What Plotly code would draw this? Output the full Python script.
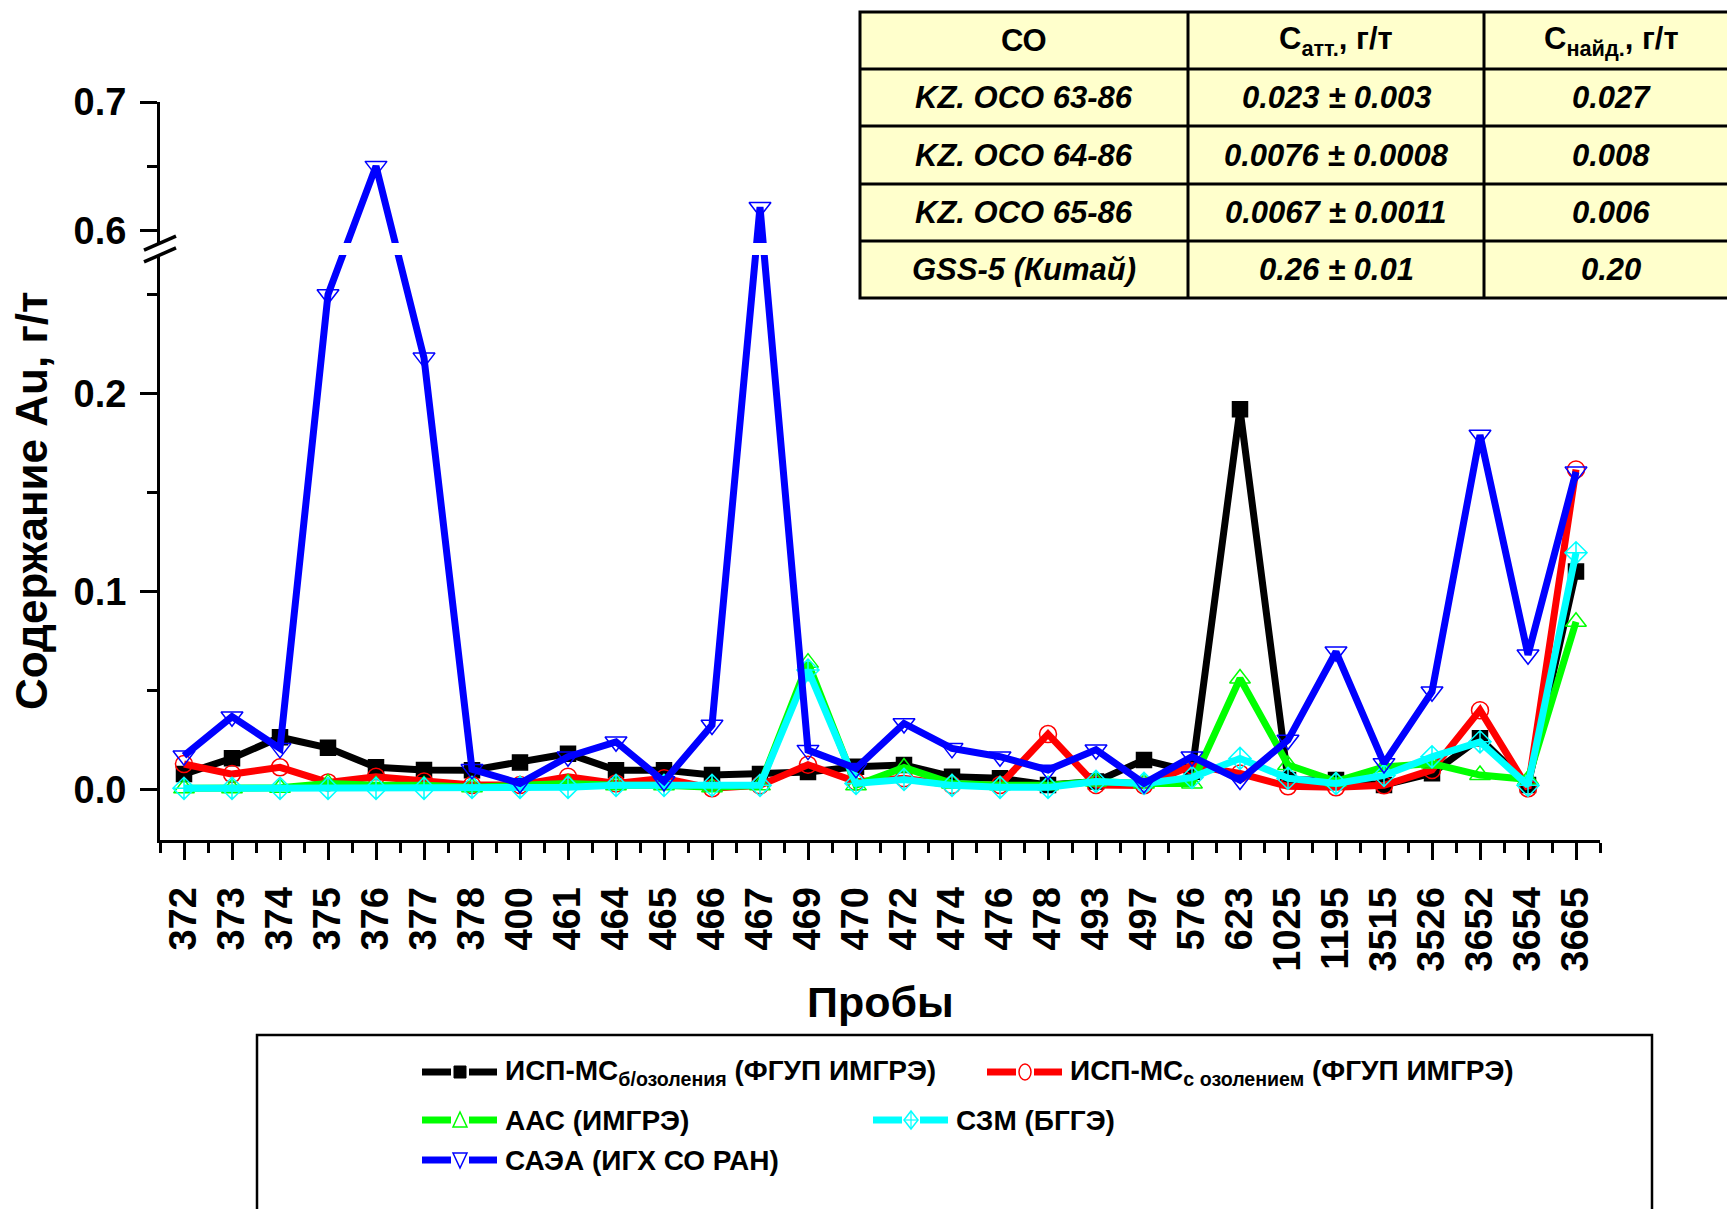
import plotly.graph_objects as go

# ---------------- data ----------------
samples = ["372", "373", "374", "375", "376", "377", "378", "400", "461", "464",
           "465", "466", "467", "469", "470", "472", "474", "476", "478", "493",
           "497", "576", "623", "1025", "1195", "3515", "3526", "3652", "3654", "3665"]

icp_ms_no_ashing = [0.0077, 0.0157, 0.0263, 0.021, 0.0111, 0.0098, 0.0097, 0.0136, 0.018, 0.0097,
                    0.0097, 0.0072, 0.0077, 0.0087, 0.0114, 0.0123, 0.0064, 0.0056, 0.0022, 0.0039,
                    0.0148, 0.0089, 0.192, 0.0047, 0.0047, 0.0022, 0.0081, 0.0258, 0.0022, 0.110]
icp_ms_ashing = [0.0128, 0.0077, 0.0111, 0.0035, 0.0064, 0.004, 0.0022, 0.0022, 0.0064, 0.003,
                 0.0056, 0.0005, 0.002, 0.0124, 0.0038, 0.0056, 0.0022, 0.0022, 0.0279, 0.0022,
                 0.002, 0.012, 0.008, 0.0015, 0.001, 0.002, 0.0098, 0.040, 0.0005, 0.1616]
aas_imgre = [0.0005, 0.0005, 0.0008, 0.003, 0.002, 0.002, 0.001, 0.002, 0.003, 0.002,
             0.002, 0.001, 0.002, 0.064, 0.002, 0.011, 0.003, 0.002, 0.002, 0.004,
             0.003, 0.003, 0.056, 0.0123, 0.004, 0.0113, 0.013, 0.0072, 0.005, 0.0847]
szm_bgge = [0.0005, 0.0005, 0.0005, 0.0005, 0.0005, 0.0005, 0.001, 0.001, 0.001, 0.002,
            0.002, 0.002, 0.002, 0.0603, 0.003, 0.005, 0.002, 0.001, 0.001, 0.004,
            0.003, 0.006, 0.0156, 0.0056, 0.003, 0.007, 0.0164, 0.024, 0.002, 0.1195]
saea_igkh = [0.017, 0.0367, 0.0207, 0.25, 0.65, 0.218, 0.0101, 0.003, 0.0165, 0.024,
             0.004, 0.0325, 0.618, 0.0198, 0.0106, 0.0333, 0.0207, 0.0165, 0.0098, 0.020,
             0.003, 0.0165, 0.0047, 0.0249, 0.0695, 0.0131, 0.0493, 0.179, 0.068, 0.1604]

series_names = ["ИСП-МС<sub>б/озоления</sub> (ФГУП ИМГРЭ)",
                "ИСП-МС<sub>с озолением</sub> (ФГУП ИМГРЭ)",
                "ААС (ИМГРЭ)",
                "СЗМ (БГГЭ)",
                "САЭА (ИГХ СО РАН)"]
series_values = [icp_ms_no_ashing, icp_ms_ashing, aas_imgre, szm_bgge, saea_igkh]

# reference materials table
table_header = ["СО", "С<sub>атт.</sub>, г/т", "С<sub>найд.</sub>, г/т"]
ref_materials = ["KZ. ОСО 63-86", "KZ. ОСО 64-86", "KZ. ОСО 65-86", "GSS-5 (Китай)"]
certified = ["0.023 ± 0.003", "0.0076 ± 0.0008", "0.0067 ± 0.0011", "0.26 ± 0.01"]
found = ["0.027", "0.008", "0.006", "0.20"]

y_major = [0.0, 0.1, 0.2, 0.6, 0.7]
y_major_text = ["0.0", "0.1", "0.2", "0.6", "0.7"]
y_minor = [0.05, 0.15, 0.25, 0.65]

# ---------------- broken value axis ----------------
LOW_TOP = 0.27        # top of the lower segment
HIGH_BOTTOM = 0.59    # bottom of the upper segment
BREAK_GAP = 0.006     # blank band between segments (axis units)
UPPER_SCALE = 0.648   # compression of the upper segment


def to_axis(v):
    if v <= LOW_TOP:
        return v
    return LOW_TOP + BREAK_GAP + (v - HIGH_BOTTOM) * UPPER_SCALE


# ---------------- page geometry ----------------
W, H = 1727, 1209
ML, MR, MT, MB = 160, 127, 102, 369
PW = W - ML - MR
PH = H - MT - MB


def px(x):
    return (x - ML) / PW


def py(y):
    return (H - MB - y) / PH


FONT = "Liberation Sans, Arial, sans-serif"

styles = [
    dict(color="#000000", symbol="square", size=15),
    dict(color="#FF0000", symbol="circle-open", size=17),
    dict(color="#00FF00", symbol="triangle-up-open", size=18),
    dict(color="#00FFFF", symbol="diamond-cross-open", size=17),
    dict(color="#0000FF", symbol="triangle-down-open", size=19),
]

fig = go.Figure()
xs = list(range(len(samples)))
for name, vals, st in zip(series_names, series_values, styles):
    fig.add_trace(go.Scatter(
        x=xs, y=[to_axis(v) for v in vals], customdata=vals, text=samples,
        mode="lines+markers", name=name, showlegend=False,
        line=dict(color=st["color"], width=7),
        marker=dict(symbol=st["symbol"], size=st["size"], color=st["color"],
                    line=dict(color=st["color"], width=1.5)),
        hovertemplate="%{text}: %{customdata}<extra></extra>",
    ))

shapes = []

# blank band of the axis break and the two slanted break marks
shapes.append(dict(type="rect", xref="paper", yref="y", x0=-0.015, x1=1.0,
                   y0=to_axis(LOW_TOP), y1=to_axis(HIGH_BOTTOM),
                   fillcolor="white", line=dict(width=0), layer="above"))
for anchor in (to_axis(LOW_TOP), to_axis(HIGH_BOTTOM)):
    shapes.append(dict(type="line", xref="paper", yref="y",
                       xsizemode="pixel", xanchor=0, x0=-16, x1=16,
                       ysizemode="pixel", yanchor=anchor, y0=-7, y1=7,
                       line=dict(color="black", width=3.5), layer="above"))

# table of reference materials
col_edges = [860, 1188, 1484, 1740]
row_edges = [12, 69, 126, 184, 241, 298]
shapes.append(dict(type="rect", xref="paper", yref="paper",
                   x0=px(col_edges[0]), x1=px(col_edges[-1]),
                   y0=py(row_edges[-1]), y1=py(row_edges[0]),
                   fillcolor="#FFFFCC", line=dict(color="black", width=3), layer="above"))
for yy in row_edges[1:-1]:
    shapes.append(dict(type="line", xref="paper", yref="paper",
                       x0=px(col_edges[0]), x1=px(col_edges[-1]), y0=py(yy), y1=py(yy),
                       line=dict(color="black", width=3), layer="above"))
for xx in col_edges[1:-1]:
    shapes.append(dict(type="line", xref="paper", yref="paper",
                       x0=px(xx), x1=px(xx), y0=py(row_edges[0]), y1=py(row_edges[-1]),
                       line=dict(color="black", width=3), layer="above"))

annotations = []
table_rows = [table_header] + [list(r) for r in zip(ref_materials, certified, found)]
for r, row in enumerate(table_rows):
    cy = (row_edges[r] + row_edges[r + 1]) / 2
    for c, txt in enumerate(row):
        cx = (col_edges[c] + min(col_edges[c + 1], 1738)) / 2
        body = txt if r == 0 else "<i>" + txt + "</i>"
        annotations.append(dict(xref="paper", yref="paper", x=px(cx), y=py(cy),
                                text=body, showarrow=False, xanchor="center", yanchor="middle",
                                font=dict(family=FONT, size=31, color="black", weight="bold")))

# legend frame and entries
shapes.append(dict(type="rect", xref="paper", yref="paper",
                   x0=px(257), x1=px(1652), y0=py(1240), y1=py(1035),
                   line=dict(color="black", width=2.5), fillcolor="rgba(0,0,0,0)", layer="above"))

legend_slots = [(422, 1072), (987, 1072), (422, 1120), (873, 1120), (422, 1160)]


def poly(points):
    return "M" + " L".join(f"{px(x):.5f},{py(y):.5f}" for x, y in points) + " Z"


for (x0, yc), name, st in zip(legend_slots, series_names, styles):
    col = st["color"]
    for a, b in ((x0, x0 + 29), (x0 + 47, x0 + 75)):
        shapes.append(dict(type="line", xref="paper", yref="paper",
                           x0=px(a), x1=px(b), y0=py(yc), y1=py(yc),
                           line=dict(color=col, width=7), layer="above"))
    mx = x0 + 38
    sym = st["symbol"]
    if sym == "square":
        shapes.append(dict(type="rect", xref="paper", yref="paper",
                           x0=px(mx - 6), x1=px(mx + 6), y0=py(yc + 6), y1=py(yc - 6),
                           fillcolor=col, line=dict(color=col, width=1), layer="above"))
    elif sym == "circle-open":
        shapes.append(dict(type="circle", xref="paper", yref="paper",
                           x0=px(mx - 6), x1=px(mx + 6), y0=py(yc + 8), y1=py(yc - 8),
                           fillcolor="white", line=dict(color=col, width=1.5), layer="above"))
    elif sym == "triangle-up-open":
        shapes.append(dict(type="path", xref="paper", yref="paper",
                           path=poly([(mx - 7, yc + 7), (mx + 7, yc + 7), (mx, yc - 8)]),
                           fillcolor="white", line=dict(color=col, width=1.5), layer="above"))
    elif sym == "triangle-down-open":
        shapes.append(dict(type="path", xref="paper", yref="paper",
                           path=poly([(mx - 7, yc - 7), (mx + 7, yc - 7), (mx, yc + 8)]),
                           fillcolor="white", line=dict(color=col, width=1.5), layer="above"))
    else:
        shapes.append(dict(type="path", xref="paper", yref="paper",
                           path=poly([(mx, yc - 9), (mx + 7, yc), (mx, yc + 9), (mx - 7, yc)]),
                           fillcolor="white", line=dict(color=col, width=1.5), layer="above"))
        for p0, p1 in (((mx, yc - 9), (mx, yc + 9)), ((mx - 7, yc), (mx + 7, yc))):
            shapes.append(dict(type="line", xref="paper", yref="paper",
                               x0=px(p0[0]), x1=px(p1[0]), y0=py(p0[1]), y1=py(p1[1]),
                               line=dict(color=col, width=1.2), layer="above"))
    annotations.append(dict(xref="paper", yref="paper", x=px(x0 + 81), y=py(yc),
                            text=name, showarrow=False, xanchor="left", yanchor="middle",
                            font=dict(family=FONT, size=28, color="black", weight="bold")))

# axis titles
annotations.append(dict(xref="paper", yref="paper", x=px(31), y=py(501),
                        text="Содержание Au, г/т", textangle=-90, showarrow=False,
                        xanchor="center", yanchor="middle",
                        font=dict(family=FONT, size=44, color="black", weight="bold")))
annotations.append(dict(xref="paper", yref="paper", x=px(880), y=py(1002),
                        text="Пробы", showarrow=False, xanchor="center", yanchor="middle",
                        font=dict(family=FONT, size=43, color="black", weight="bold")))

tick_font = dict(family=FONT, size=38, color="black", weight="bold")

fig.update_layout(
    width=W, height=H,
    margin=dict(l=ML, r=MR, t=MT, b=MB, pad=0),
    paper_bgcolor="white", plot_bgcolor="white",
    showlegend=False,
    shapes=shapes, annotations=annotations,
    xaxis=dict(
        range=[-0.5, len(samples) - 0.5],
        tickmode="array", tickvals=xs, ticktext=samples, tickangle=-90,
        tickfont=tick_font, ticks="outside", ticklen=17, tickwidth=3, tickcolor="black",
        showline=True, linewidth=3, linecolor="black", showgrid=False, zeroline=False,
        minor=dict(tickmode="array", tickvals=[i - 0.5 for i in range(len(samples) + 1)],
                   ticks="outside", ticklen=10, tickwidth=3, tickcolor="black", showgrid=False),
        ticklabelstandoff=12,
    ),
    yaxis=dict(
        range=[-0.0256, to_axis(0.7)],
        tickmode="array", tickvals=[to_axis(v) for v in y_major], ticktext=y_major_text,
        tickfont=tick_font, ticks="outside", ticklen=17, tickwidth=3, tickcolor="black",
        showline=True, linewidth=3, linecolor="black", showgrid=False, zeroline=False,
        minor=dict(tickmode="array", tickvals=[to_axis(v) for v in y_minor],
                   ticks="outside", ticklen=10, tickwidth=3, tickcolor="black", showgrid=False),
        ticklabelstandoff=6,
    ),
)

fig.write_html("out.html")
